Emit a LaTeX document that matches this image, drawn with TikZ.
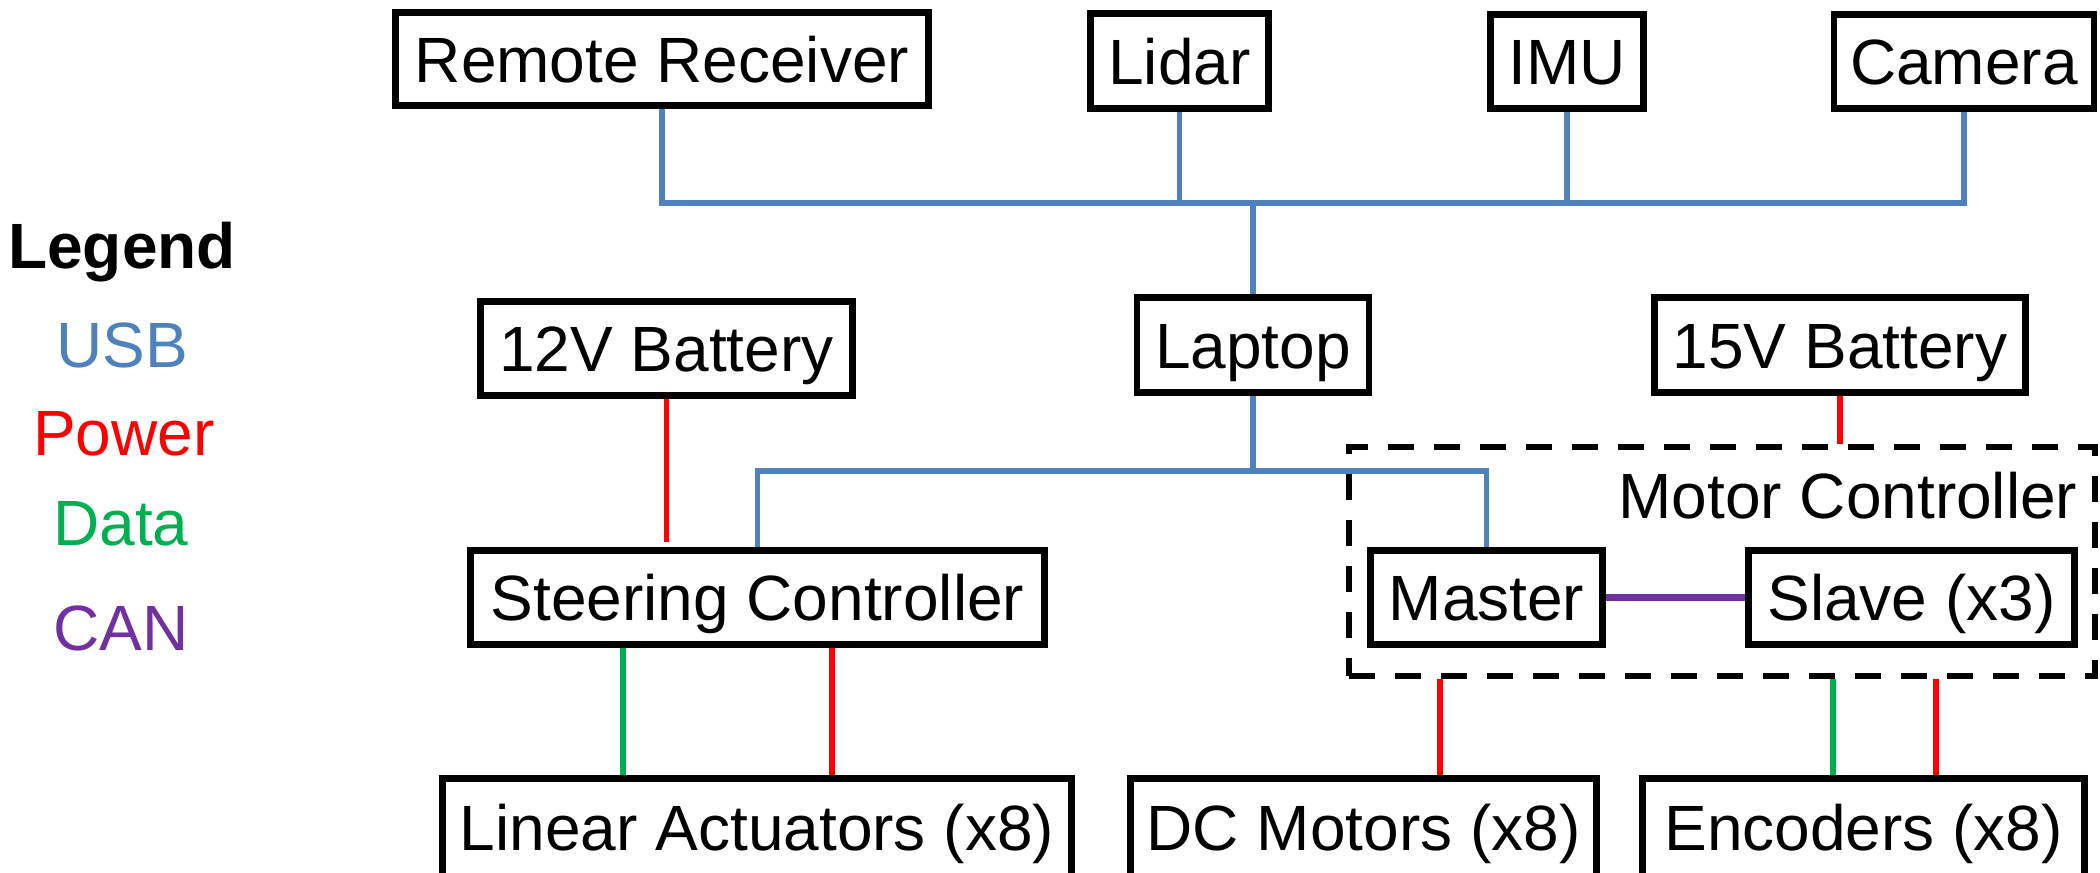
\documentclass[tikz,border=0pt]{standalone}
\usepackage{fontspec}
\setmainfont{Liberation Sans}
\definecolor{usbc}{HTML}{4F81BD}
\definecolor{pwrc}{HTML}{FF0000}
\definecolor{datc}{HTML}{00B050}
\definecolor{canc}{HTML}{7030A0}
\begin{document}
\begin{tikzpicture}[x=0.5pt,y=-0.5pt,
  box/.style={draw, line width=3.4pt, inner sep=0pt, text height=23pt, text depth=0pt,
    font=\fontsize{32}{38}\selectfont},
  grp/.style={draw, line width=3.2pt, dash pattern=on 13pt off 10pt, inner sep=0pt},
  lbl/.style={anchor=base, inner sep=0pt, font=\fontsize{32}{38}\selectfont},
  usbl/.style={draw=usbc, line width=2.6pt},
  pwrl/.style={draw=pwrc, line width=2.6pt},
  datl/.style={draw=datc, line width=2.6pt},
  canl/.style={draw=canc, line width=3.3pt}]
\useasboundingbox (0,0) rectangle (2100,873);

% legend
\node[lbl, font=\fontsize{32}{38}\selectfont\bfseries] (lg) at (122,268) {Legend};
\node[lbl, text=usbc] (lusb) at (122,367) {USB};
\node[lbl, text=pwrc] (lpwr) at (124,455) {Power};
\node[lbl, text=datc] (ldat) at (121,545) {Data};
\node[lbl, text=canc] (lcan) at (121,650) {CAN};

% top row
\node[box, minimum width=266.5pt, minimum height=46.5pt] (rr) at (662,59) {Remote Receiver};
\node[box, minimum width=89pt, minimum height=47.5pt] (lidar) at (1179.5,61) {Lidar};
\node[box, minimum width=76.5pt, minimum height=47pt] (imu) at (1567,61.5) {IMU};
\node[box, minimum width=130pt, minimum height=47pt] (cam) at (1964,61.5) {Camera};

% middle row
\node[box, minimum width=186pt, minimum height=47pt] (b12) at (666.5,348.5) {12V Battery};
\node[box, minimum width=116pt, minimum height=47.5pt] (lap) at (1253,345) {Laptop};
\node[box, minimum width=185.5pt, minimum height=47.5pt] (b15) at (1840,345) {15V Battery};

% controllers
\node[box, minimum width=287pt, minimum height=47pt] (steer) at (757.5,597.5) {Steering Controller};
\node[grp, minimum width=373pt, minimum height=114.5pt] (mc) at (1722,561.5) {};
\node[lbl] (mct) at (1848,518) {Motor Controller};
\node[box, minimum width=116pt, minimum height=47pt] (master) at (1486.5,597.5) {Master};
\node[box, minimum width=163pt, minimum height=47pt] (slave) at (1911.5,597.5) {Slave (x3)};

% bottom row
\node[box, minimum width=314.5pt, minimum height=49pt] (la) at (757,827.5) {Linear Actuators (x8)};
\node[box, minimum width=233pt, minimum height=49pt] (dc) at (1363.5,827.5) {DC Motors (x8)};
\node[box, minimum width=221pt, minimum height=49pt] (enc) at (1863.5,827.5) {Encoders (x8)};

% helper coordinates
\coordinate (bus) at (1253,203);
\coordinate (hub) at (1253,471);
\coordinate (xg1) at (623,0);
\coordinate (xr1) at (832,0);
\coordinate (xr2) at (1440,0);
\coordinate (xg3) at (1833,0);
\coordinate (xr3) at (1936,0);

% USB
\draw[usbl] (rr.south) |- (bus);
\draw[usbl] (cam.south) |- (bus);
\draw[usbl] (lidar.south) -- (lidar.south |- bus);
\draw[usbl] (imu.south) -- (imu.south |- bus);
\draw[usbl] (bus) -- (lap.north);
\draw[usbl] (lap.south) -- (hub);
\draw[usbl] (steer.north) -- (steer.north |- hub) -- (master.north |- hub) -- (master.north);

% power
\draw[pwrl, shorten >=2.5pt] (b12.south) -- (b12.south |- steer.north);
\draw[pwrl] (b15.south) -- (b15.south |- mc.north);
\draw[pwrl] (xr1 |- steer.south) -- (xr1 |- la.north);
\draw[pwrl] (xr2 |- mc.south) -- (xr2 |- dc.north);
\draw[pwrl] (xr3 |- mc.south) -- (xr3 |- enc.north);

% data
\draw[datl] (xg1 |- steer.south) -- (xg1 |- la.north);
\draw[datl] (xg3 |- mc.south) -- (xg3 |- enc.north);

% CAN
\draw[canl] (master.east) -- (slave.west);
\end{tikzpicture}
\end{document}
